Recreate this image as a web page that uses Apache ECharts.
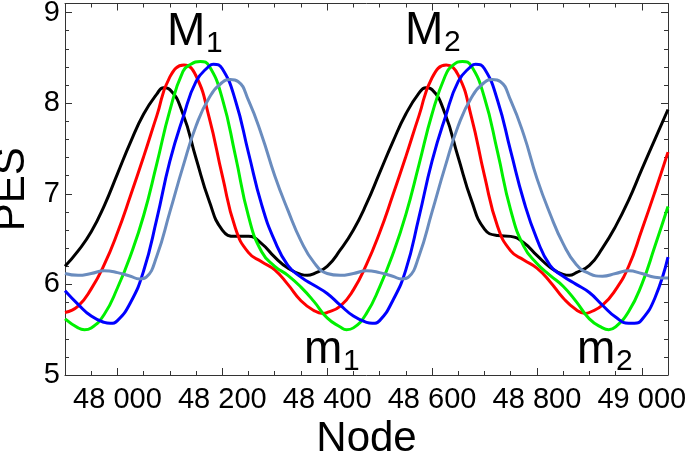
<!DOCTYPE html>
<html><head><meta charset="utf-8">
<script src="https://cdn.jsdelivr.net/npm/echarts@6/dist/echarts.min.js"></script>
<style>html,body{margin:0;padding:0;background:#fff}#c{width:685px;height:458px}</style>
</head><body><div id="c"></div>
<script>
const FONT = '"Liberation Sans", Arial, sans-serif';
const nodeMin = 47900, nodeMax = 49050;
const pesMin = 5, pesMax = 9.1;
const xMajor = [48000, 48200, 48400, 48600, 48800, 49000];
const xMajorLabels = ['48 000', '48 200', '48 400', '48 600', '48 800', '49 000'];
const xMinor = [47950, 48050, 48100, 48150, 48250, 48300, 48350, 48450, 48500, 48550, 48650, 48700, 48750, 48850, 48900, 48950];
const yMajor = [5, 6, 7, 8, 9];
const yMajorLabels = ['5', '6', '7', '8', '9'];
const yMinor = [5.2, 5.4, 5.6, 5.8, 6.2, 6.4, 6.6, 6.8, 7.2, 7.4, 7.6, 7.8, 8.2, 8.4, 8.6, 8.8];

const seriesNames = ['black', 'red', 'green', 'blue', 'slate'];
const seriesColors = ['#000000', '#ff0000', '#00f000', '#0000ff', '#6a8cbe'];

const blackPES = [[47900,6.20],[47925,6.37],[47950,6.58],[47975,6.87],[48000,7.22],[48025,7.57],[48050,7.88],[48075,8.10],[48088,8.17],[48100,8.15],[48125,7.88],[48150,7.39],[48175,6.92],[48200,6.60],[48225,6.53],[48250,6.53],[48275,6.45],[48300,6.30],[48325,6.18],[48350,6.11],[48362,6.10],[48375,6.12],[48400,6.20],[48425,6.38],[48450,6.60],[48475,6.89],[48500,7.23],[48525,7.57],[48550,7.88],[48575,8.11],[48588,8.17],[48600,8.15],[48625,7.88],[48650,7.40],[48675,6.93],[48700,6.61],[48725,6.54],[48750,6.53],[48775,6.46],[48800,6.32],[48825,6.19],[48850,6.11],[48862,6.10],[48875,6.13],[48900,6.21],[48925,6.40],[48950,6.64],[48975,6.93],[49000,7.27],[49025,7.60],[49050,7.93]];

const redPES = [[47900,5.69],[47925,5.76],[47950,5.95],[47975,6.22],[48000,6.57],[48025,6.98],[48050,7.41],[48075,7.86],[48100,8.29],[48127,8.42],[48150,8.30],[48175,7.84],[48200,7.20],[48225,6.62],[48250,6.35],[48275,6.25],[48300,6.16],[48325,6.00],[48350,5.82],[48375,5.71],[48392,5.68],[48400,5.69],[48425,5.76],[48450,5.94],[48475,6.22],[48500,6.57],[48525,6.98],[48550,7.41],[48575,7.86],[48600,8.28],[48627,8.42],[48650,8.31],[48675,7.85],[48700,7.20],[48725,6.64],[48750,6.37],[48775,6.27],[48800,6.18],[48825,6.03],[48850,5.85],[48875,5.72],[48893,5.68],[48900,5.69],[48925,5.77],[48950,5.94],[48975,6.20],[49000,6.60],[49025,7.02],[49050,7.46]];

const greenPES = [[47900,5.62],[47925,5.52],[47937,5.50],[47950,5.52],[47975,5.67],[48000,5.96],[48025,6.32],[48050,6.76],[48075,7.33],[48100,7.92],[48125,8.35],[48140,8.43],[48158,8.46],[48175,8.41],[48200,8.05],[48225,7.42],[48250,6.75],[48275,6.36],[48300,6.20],[48325,6.10],[48350,5.97],[48375,5.81],[48400,5.63],[48425,5.53],[48437,5.50],[48450,5.52],[48475,5.68],[48500,5.97],[48525,6.33],[48550,6.77],[48575,7.32],[48600,7.88],[48625,8.30],[48640,8.42],[48658,8.46],[48675,8.41],[48700,8.06],[48725,7.46],[48750,6.82],[48775,6.42],[48800,6.23],[48825,6.10],[48850,5.98],[48875,5.81],[48900,5.62],[48925,5.52],[48937,5.50],[48950,5.53],[48975,5.70],[49000,6.00],[49025,6.42],[49050,6.86]];

const bluePES = [[47900,5.93],[47925,5.78],[47950,5.65],[47975,5.58],[47986,5.57],[48000,5.60],[48025,5.80],[48050,6.15],[48075,6.72],[48100,7.36],[48125,7.84],[48150,8.24],[48175,8.41],[48183,8.43],[48200,8.38],[48225,8.03],[48250,7.45],[48275,6.88],[48300,6.48],[48325,6.21],[48350,6.08],[48375,5.99],[48400,5.90],[48425,5.77],[48450,5.65],[48475,5.58],[48486,5.57],[48500,5.60],[48525,5.82],[48550,6.16],[48575,6.74],[48600,7.36],[48625,7.84],[48650,8.24],[48675,8.41],[48683,8.43],[48700,8.38],[48725,8.03],[48750,7.47],[48775,6.92],[48800,6.50],[48825,6.21],[48850,6.09],[48875,6.00],[48900,5.91],[48925,5.77],[48950,5.64],[48975,5.57],[48986,5.57],[49000,5.61],[49025,5.85],[49050,6.30]];

const slatePES = [[47900,6.12],[47925,6.10],[47950,6.12],[47975,6.15],[48000,6.13],[48025,6.09],[48042,6.06],[48055,6.08],[48075,6.31],[48100,6.80],[48125,7.30],[48150,7.75],[48175,8.06],[48200,8.23],[48215,8.26],[48230,8.24],[48250,8.03],[48275,7.65],[48300,7.20],[48325,6.82],[48350,6.48],[48375,6.24],[48400,6.12],[48425,6.10],[48450,6.12],[48475,6.15],[48500,6.13],[48525,6.09],[48542,6.06],[48555,6.08],[48575,6.31],[48600,6.80],[48625,7.30],[48650,7.75],[48675,8.06],[48700,8.23],[48715,8.26],[48730,8.24],[48750,8.03],[48775,7.65],[48800,7.17],[48825,6.78],[48850,6.45],[48875,6.22],[48900,6.12],[48925,6.09],[48950,6.12],[48975,6.15],[49000,6.12],[49025,6.08],[49050,6.07]];

const allData = [blackPES, redPES, greenPES, bluePES, slatePES];

const frameColor = '#333';
function xAx(pos, vals, len, showLine, labels) {
  return {
    type: 'value', position: pos, min: nodeMin, max: nodeMax,
    axisLine: { show: showLine, onZero: false, lineStyle: { color: frameColor, width: 1 } },
    axisTick: { show: true, inside: true, length: len, customValues: vals, lineStyle: { color: frameColor, width: 1 } },
    axisLabel: labels ? {
      show: true, customValues: xMajor, margin: 10, color: '#000', fontSize: 29, fontFamily: FONT,
      formatter: v => xMajorLabels[xMajor.indexOf(v)] || ''
    } : { show: false },
    splitLine: { show: false }
  };
}
function yAx(pos, vals, len, showLine, labels) {
  return {
    type: 'value', position: pos, min: pesMin, max: pesMax,
    axisLine: { show: showLine, onZero: false, lineStyle: { color: frameColor, width: 1 } },
    axisTick: { show: true, inside: true, length: len, customValues: vals, lineStyle: { color: frameColor, width: 1 } },
    axisLabel: labels ? {
      show: true, customValues: yMajor, margin: 5, color: '#000', fontSize: 29, fontFamily: FONT,
      formatter: v => { const i = yMajor.findIndex(m => Math.abs(m - v) < 1e-6); return i >= 0 ? yMajorLabels[i] : ''; }
    } : { show: false },
    splitLine: { show: false }
  };
}

const xAxes = [xAx('bottom', xMajor, 7, true, true), xAx('bottom', xMinor, 4, false, false), xAx('top', xMajor, 7, true, false), xAx('top', xMinor, 4, false, false)];
xAxes[0].name = 'Node'; xAxes[0].nameLocation = 'middle'; xAxes[0].nameGap = 41;
xAxes[0].nameTextStyle = { fontSize: 42, color: '#000', fontFamily: FONT };
const yAxes = [yAx('left', yMajor, 7, true, true), yAx('left', yMinor, 4, false, false), yAx('right', yMajor, 7, true, false), yAx('right', yMinor, 4, false, false)];
yAxes[0].name = 'PES'; yAxes[0].nameLocation = 'middle'; yAxes[0].nameGap = 31;
yAxes[0].nameTextStyle = { fontSize: 42, color: '#000', fontFamily: FONT };

const chart = echarts.init(document.getElementById('c'), null, { renderer: 'canvas' });
function txt(s, x, y, size) {
  return { type: 'text', x: x, y: y, z: 100, style: { text: s, fontSize: size, fontFamily: FONT, fill: '#000', align: 'left', verticalAlign: 'middle' } };
}
chart.setOption({
  animation: false,
  backgroundColor: '#fff',
  grid: { left: 65, right: 17, top: 3.5, bottom: 83, containLabel: false, outerBoundsMode: 'none' },
  xAxis: xAxes,
  yAxis: yAxes,
  series: allData.map((d, i) => ({
    name: seriesNames[i], type: 'line', data: d, xAxisIndex: 0, yAxisIndex: 0,
    smooth: 0.5, showSymbol: false, symbol: 'none', clip: true,
    lineStyle: { color: seriesColors[i], width: 3 }, itemStyle: { color: seriesColors[i] }
  })),
  graphic: [
    txt('M', 167, 32.5, 46), txt('1', 206, 44, 30),
    txt('M', 405, 31.5, 46), txt('2', 444, 43, 30),
    txt('m', 304, 350, 46), txt('1', 343, 362, 30),
    txt('m', 577, 350, 46), txt('2', 616, 362, 30)
  ]
});
</script></body></html>
